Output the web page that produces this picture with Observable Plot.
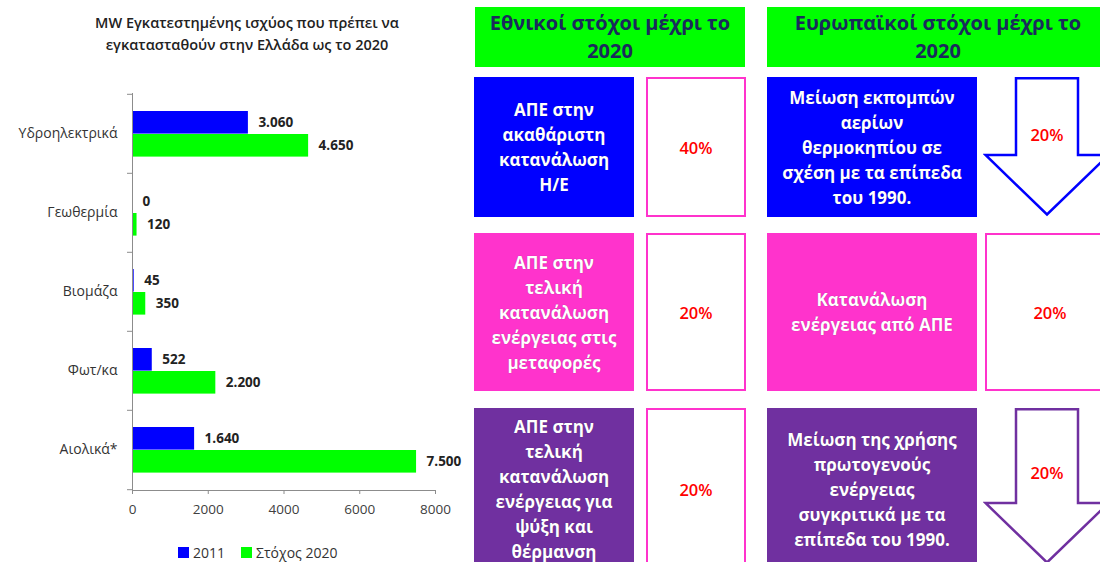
<!DOCTYPE html>
<html><head><meta charset="utf-8">
<script src="https://cdn.jsdelivr.net/npm/d3@7"></script>
<script src="https://cdn.jsdelivr.net/npm/@observablehq/plot@0.6"></script>
<style>
html,body{margin:0;padding:0;background:#fff;}
#root{position:relative;width:1100px;height:562px;overflow:hidden;font-family:"Open Sans",sans-serif;}
#title{position:absolute;left:0;top:12px;width:494px;text-align:center;font-size:14.5px;font-weight:600;line-height:22px;color:#222;}
#chart{position:absolute;left:0;top:62px;}
#legend{position:absolute;left:178px;top:543px;display:flex;align-items:center;font-size:14px;color:#333;}
#legend .sw{width:11px;height:11px;display:inline-block;margin-right:4px;}
#legend .item{display:flex;align-items:center;margin-right:16px;}
.box{position:absolute;box-sizing:border-box;display:flex;align-items:center;justify-content:center;text-align:center;white-space:pre-line;}
.hdr{background:#00FF00;color:#1A2B5C;font-size:20px;font-weight:700;line-height:28px;}
.lbl{color:#fff;font-size:17px;font-weight:700;line-height:25px;text-shadow:0 0 1px rgba(0,0,0,0.35);}
.val{background:#fff;border:2px solid #FF33CC;}
.pct{color:#FF0000;font-size:16.5px;font-weight:600;}
.arrow{position:absolute;}
</style></head><body><div id="root">
<div id="title"></div>
<div id="chart"></div>
<div id="legend"></div>
</div>
<script>
// ---- data ----
const chartTitle = "MW Εγκατεστημένης ισχύος που πρέπει να\nεγκατασταθούν στην Ελλάδα ως το 2020";
const categories = ["Υδροηλεκτρικά", "Γεωθερμία", "Βιομάζα", "Φωτ/κα", "Αιολικά*"];
const series = ["2011", "Στόχος 2020"];
const values2011 = [3060, 0, 45, 522, 1640];
const valuesTarget2020 = [4650, 120, 350, 2200, 7500];
const xTicks = [0, 2000, 4000, 6000, 8000];

const headers = ["Εθνικοί στόχοι μέχρι το\n2020", "Ευρωπαϊκοί στόχοι μέχρι το\n2020"];
const nationalLabels = [
  "ΑΠΕ στην\nακαθάριστη\nκατανάλωση\nΗ/Ε",
  "ΑΠΕ στην\nτελική\nκατανάλωση\nενέργειας στις\nμεταφορές",
  "ΑΠΕ στην\nτελική\nκατανάλωση\nενέργειας για\nψύξη και\nθέρμανση"
];
const nationalValues = ["40%", "20%", "20%"];
const europeanLabels = [
  "Μείωση εκπομπών\nαερίων\nθερμοκηπίου σε\nσχέση με τα επίπεδα\nτου 1990.",
  "Κατανάλωση\nενέργειας από ΑΠΕ",
  "Μείωση της χρήσης\nπρωτογενούς\nενέργειας\nσυγκριτικά με  τα\nεπίπεδα του  1990."
];
const europeanValues = ["20%", "20%", "20%"];
const europeanShapes = ["arrow", "box", "arrow"];

// ---- styles ----
const seriesColors = ["#0000FF", "#00FF00"];
const rowColors = ["#0000FF", "#FF33CC", "#7030A0"];

// ---- bar chart ----
document.getElementById("title").textContent = chartTitle;
document.getElementById("title").style.whiteSpace = "pre-line";

const rows = categories.flatMap((c, i) => [
  {category: c, series: series[0], value: values2011[i]},
  {category: c, series: series[1], value: valuesTarget2020[i]}
]);
const fmt = d3.formatLocale({decimal: ",", thousands: ".", grouping: [3], currency: ["", ""]}).format(",d");

const W = 470, H = 466, mT = 31, mB = 38, mL = 132, mR = 35;
const bw = (H - mT - mB) / categories.length;

const plot = Plot.plot({
  width: W, height: H,
  marginTop: mT, marginBottom: mB, marginLeft: mL, marginRight: mR,
  style: {fontFamily: "Open Sans, sans-serif", background: "#fff", overflow: "visible"},
  x: {domain: [0, 8000], axis: null},
  y: {domain: categories, padding: 0, axis: null},
  marks: [
    Plot.barX(rows.filter(d => d.series === series[0]), {x: "value", y: "category", fill: seriesColors[0], insetTop: 17, insetBottom: bw - 40}),
    Plot.barX(rows.filter(d => d.series === series[1]), {x: "value", y: "category", fill: seriesColors[1], insetTop: 40, insetBottom: bw - 63}),
    Plot.text(rows.filter(d => d.series === series[0]), {x: "value", y: "category", text: d => fmt(d.value), dx: 10, dy: -11.4, textAnchor: "start", fontWeight: "bold", fontSize: 13.5, fill: "#222"}),
    Plot.text(rows.filter(d => d.series === series[1]), {x: "value", y: "category", text: d => fmt(d.value), dx: 10, dy: 11.6, textAnchor: "start", fontWeight: "bold", fontSize: 13.5, fill: "#222"}),
    Plot.ruleX([0], {stroke: "#8c8c8c"}),
    Plot.frame({anchor: "bottom", stroke: "#8c8c8c"}),
    Plot.axisY({tickSize: 0, tickPadding: 15, fontSize: 14, color: "#333", label: null}),
    Plot.axisY({tickSize: 5, dy: -bw / 2, tickFormat: () => "", stroke: "#8c8c8c", label: null}),
    Plot.axisY([categories[categories.length - 1]], {tickSize: 5, dy: bw / 2, tickFormat: () => "", stroke: "#8c8c8c", label: null}),
    Plot.axisX({ticks: xTicks, tickSize: 4, tickPadding: 10, fontSize: 13.5, color: "#404040", stroke: "#8c8c8c", tickFormat: d => String(d), label: null})
  ]
});
document.getElementById("chart").appendChild(plot);

const legend = document.getElementById("legend");
series.forEach((s, i) => {
  const it = document.createElement("div");
  it.className = "item";
  it.innerHTML = `<span class="sw" style="background:${seriesColors[i]}"></span><span>${s}</span>`;
  legend.appendChild(it);
});

// ---- target panels ----
const root = document.getElementById("root");
function box(cls, x, y, w, h, text, extra) {
  const d = document.createElement("div");
  d.className = "box " + cls;
  Object.assign(d.style, {left: x + "px", top: y + "px", width: w + "px", height: h + "px"}, extra || {});
  if (text != null) d.textContent = text;
  root.appendChild(d);
  return d;
}
box("hdr", 475, 7, 270, 60, headers[0]);
box("hdr", 767, 7, 342, 60, headers[1]);

const rowTop = [77, 233, 408];
const rowH = [140, 158, 162];
nationalLabels.forEach((t, i) => {
  box("lbl", 474, rowTop[i], 160, rowH[i], t, {background: rowColors[i]});
  const v = box("val", 646, rowTop[i], 100, rowH[i], null);
  const p = document.createElement("span"); p.className = "pct"; p.textContent = nationalValues[i]; v.appendChild(p);
});
europeanLabels.forEach((t, i) => {
  box("lbl", 767, rowTop[i], 210, rowH[i], t, {background: rowColors[i]});
  if (europeanShapes[i] === "box") {
    const v = box("val", 985, rowTop[i], 130, rowH[i], null);
    const p = document.createElement("span"); p.className = "pct"; p.textContent = europeanValues[i]; v.appendChild(p);
  } else {
    const w = 128, h = i === 0 ? 140 : 157, s = h - 62, sw = 2.5;
    const ns = "http://www.w3.org/2000/svg";
    const svg = document.createElementNS(ns, "svg");
    svg.setAttribute("class", "arrow");
    svg.setAttribute("width", w); svg.setAttribute("height", h);
    svg.style.left = "983px"; svg.style.top = rowTop[i] + "px";
    const poly = document.createElementNS(ns, "polygon");
    const pts = [[33, sw / 2], [95, sw / 2], [95, s], [w - sw, s], [w / 2, h - sw], [sw, s], [33, s]];
    poly.setAttribute("points", pts.map(p => p.join(",")).join(" "));
    poly.setAttribute("fill", "#fff"); poly.setAttribute("stroke", rowColors[i]); poly.setAttribute("stroke-width", sw);
    svg.appendChild(poly);
    root.appendChild(svg);
    const p = document.createElement("div"); p.className = "pct";
    Object.assign(p.style, {position: "absolute", left: "983px", width: w + "px", textAlign: "center", top: (rowTop[i] + h * 0.41 - 11) + "px"});
    p.textContent = europeanValues[i];
    root.appendChild(p);
  }
});
</script></body></html>
